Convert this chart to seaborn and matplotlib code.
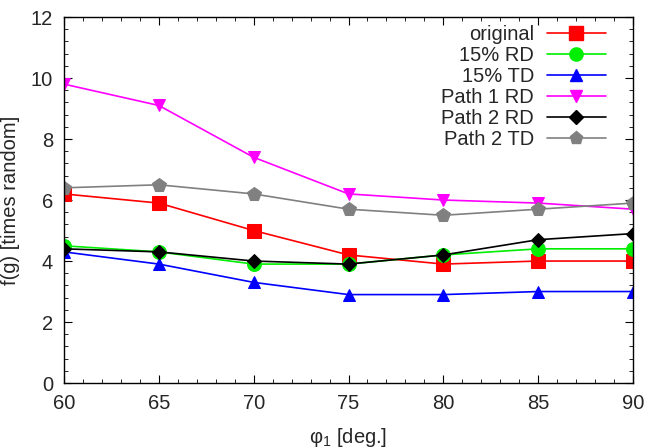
import numpy as np
import pandas as pd
import matplotlib
matplotlib.use("Agg")
import matplotlib.pyplot as plt
from matplotlib.ticker import MultipleLocator
import seaborn as sns

phi = [60, 65, 70, 75, 80, 85, 90]
original = [6.2, 5.9, 5.0, 4.2, 3.9, 4.0, 4.0]
rd15 = [4.5, 4.3, 3.9, 3.9, 4.2, 4.4, 4.4]
td15 = [4.3, 3.9, 3.3, 2.9, 2.9, 3.0, 3.0]
path1_rd = [9.8, 9.1, 7.4, 6.2, 6.0, 5.9, 5.7]
path2_rd = [4.4, 4.3, 4.0, 3.9, 4.2, 4.7, 4.9]
path2_td = [6.4, 6.5, 6.2, 5.7, 5.5, 5.7, 5.9]

names = ["original", "15% RD", "15% TD", "Path 1 RD", "Path 2 RD", "Path 2 TD"]
series = [original, rd15, td15, path1_rd, path2_rd, path2_td]
colors = ["#ff0000", "#00ee00", "#0000ff", "#ff00ff", "#000000", "#808080"]
markers = ["s", "o", "^", "v", "D", "p"]
msizes = [10, 10, 9, 9, 7, 10]

sns.set_style("ticks")
plt.rcParams["font.family"] = ["Liberation Sans", "DejaVu Sans"]
plt.rcParams["mathtext.fontset"] = "custom"
plt.rcParams["mathtext.rm"] = "Liberation Sans"
plt.rcParams["mathtext.it"] = "Liberation Sans:italic"

df = pd.DataFrame({
    "phi": np.tile(phi, len(names)),
    "f": np.concatenate(series),
    "series": np.repeat(names, len(phi)),
})

fig = plt.figure(figsize=(6.56, 4.48), dpi=100)
ax = fig.add_axes([0.0976, 0.145, 0.8674, 0.817])

for name, c, m, ms in zip(names, colors, markers, msizes):
    sub = df[df["series"] == name]
    sns.lineplot(data=sub, x="phi", y="f", ax=ax, color=c, marker=m,
                 markersize=ms, markeredgecolor=c, linewidth=1.2,
                 label=name, legend=False)

ax.set_xlim(60, 90)
ax.set_ylim(0, 12)
ax.xaxis.set_major_locator(MultipleLocator(5))
ax.xaxis.set_minor_locator(MultipleLocator(1))
ax.yaxis.set_major_locator(MultipleLocator(2))
ax.yaxis.set_minor_locator(MultipleLocator(0.4))
ax.tick_params(which="both", direction="in", top=True, right=True,
               labelsize=14.5, color="black")
ax.tick_params(which="major", length=6, pad=8)
ax.tick_params(which="minor", length=3)
for s in ax.spines.values():
    s.set_linewidth(1.0)
    s.set_color("black")

ax.set_xlabel("φ$_1$ [deg.]", fontsize=14.5, labelpad=9)
ax.set_ylabel("f(g) [times random]", fontsize=14.5, labelpad=8)

handles = [plt.Line2D([], [], color=c, marker=m, markersize=ms * 0.95,
                      markeredgecolor=c, linewidth=1.2)
           for c, m, ms in zip(colors, markers, msizes)]
leg = ax.legend(handles, names, loc="upper right", markerfirst=False,
                frameon=False, fontsize=14.5, labelspacing=0.1,
                handlelength=2.9, handletextpad=0.65,
                borderaxespad=0.0, borderpad=0.2,
                bbox_to_anchor=(0.959, 0.989))
for vp in leg._legend_box._children[-1]._children:
    vp.align = "right"

fig.savefig("out.png", dpi=100)
